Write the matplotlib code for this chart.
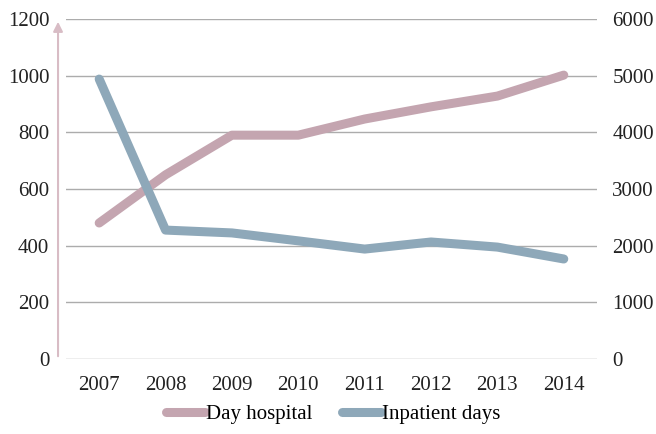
import matplotlib.pyplot as plt

plt.rcParams['font.family'] = ['Liberation Serif', 'DejaVu Serif']

years = ['2007', '2008', '2009', '2010', '2011', '2012', '2013', '2014']
day_hospital = [480, 650, 790, 790, 847, 890, 928, 1002]
inpatient_days = [4940, 2275, 2225, 2085, 1940, 2065, 1975, 1765]

pink = '#c4a5b0'
blue = '#8ea8b9'

fig = plt.figure(figsize=(6.56, 4.34), dpi=100)
ax = fig.add_axes([0.1006, 0.1728, 0.8094, 0.7834])
ax2 = ax.twinx()

x = list(range(len(years)))
ax.plot(x, day_hospital, color=pink, lw=6.5, solid_capstyle='round', zorder=3)
ax2.plot(x, inpatient_days, color=blue, lw=6.5, solid_capstyle='round', zorder=3)

ax.set_xlim(-0.5, len(years) - 0.5)
ax.set_ylim(0, 1200)
ax2.set_ylim(0, 6000)
ax.set_yticks(range(0, 1201, 200))
ax2.set_yticks(range(0, 6001, 1000))
ax.set_xticks(x)
ax.set_xticklabels(years)

for a in (ax, ax2):
    for s in a.spines.values():
        s.set_visible(False)
    a.tick_params(length=0, labelsize=15, colors='#222222')
ax.tick_params(axis='y', pad=12)
ax2.tick_params(axis='y', pad=11)
ax.tick_params(axis='x', pad=12)
ax.yaxis.grid(True, color='#acacac', lw=1)
ax.set_axisbelow(True)

# left arrow axis
ax.annotate('', xy=(-0.015, 1.0), xytext=(-0.015, 0.0), xycoords='axes fraction',
            annotation_clip=False,
            arrowprops=dict(arrowstyle='-|>', color='#d8bcc5', lw=1.5, mutation_scale=14))

h1, = ax.plot([], [], color=pink, lw=6.5, solid_capstyle='round', label='Day hospital')
h2, = ax.plot([], [], color=blue, lw=6.5, solid_capstyle='round', label='Inpatient days')
fig.legend(handles=[h1, h2], loc='lower center', bbox_to_anchor=(0.508, -0.02), ncol=2,
           frameon=False, fontsize=15, handlelength=1.9, handletextpad=0.05, columnspacing=1.4)

fig.savefig('out.png', dpi=100)
